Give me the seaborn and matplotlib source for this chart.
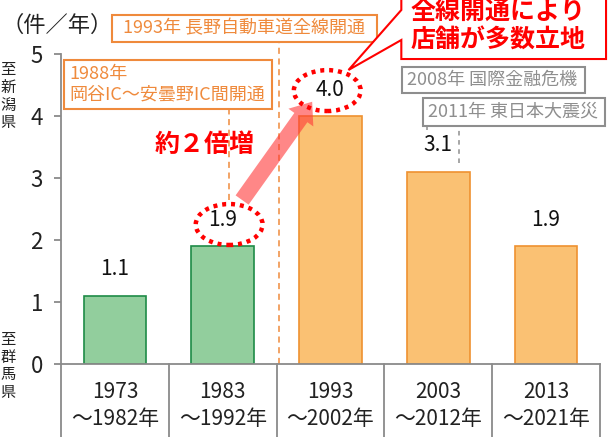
import numpy as np
import pandas as pd
import matplotlib
matplotlib.use('Agg')
import matplotlib.pyplot as plt
import seaborn as sns
from matplotlib.patches import Ellipse, Rectangle, Polygon, FancyArrowPatch

sns.set_theme(style='white')
plt.rcParams['font.family'] = ['Noto Sans CJK JP', 'DejaVu Sans']

# ============================================================
# data
# ============================================================
period_start = ['1973', '1983', '1993', '2003', '2013']
period_end = ['～1982年', '～1992年', '～2002年', '～2012年', '～2021年']
stores_per_year = [1.1, 1.9, 4.0, 3.1, 1.9]
phase = ['before', 'before', 'after', 'after', 'after']
y_ticks = [0, 1, 2, 3, 4, 5]

fill_colors = {'before': '#92CE9D', 'after': '#FAC173'}
edge_colors = {'before': '#1E8B47', 'after': '#EF9130'}

df = pd.DataFrame({
    'period': [f'{a}\n{b}' for a, b in zip(period_start, period_end)],
    'value': stores_per_year,
    'phase': phase,
})

ORANGE = '#EF8A3C'
GRAY = '#8E8E8E'
RED = '#FF0000'
AXIS_GRAY = '#8A8A8A'

# ============================================================
# figure
# ============================================================
fig = plt.figure(figsize=(6.13, 4.37), dpi=100)
ax = fig.add_axes([61 / 613, 73 / 437, 539 / 613, 310 / 437])

sns.barplot(data=df, x='period', y='value', hue='phase', palette=fill_colors,
            width=0.58, dodge=False, legend=False, ax=ax, saturation=1)

for p in ax.patches:
    idx = int(round(p.get_x() + p.get_width() / 2))
    p.set_edgecolor(edge_colors[phase[idx]])
    p.set_linewidth(1.2)

ax.set_xlim(-0.5, 4.5)
ax.set_ylim(0, 5)
ax.set_yticks(y_ticks)
ax.set_xlabel('')
ax.set_ylabel('')

for side in ['top', 'right']:
    ax.spines[side].set_visible(False)
for side in ['left', 'bottom']:
    ax.spines[side].set_color(AXIS_GRAY)
    ax.spines[side].set_linewidth(1.3)

ax.tick_params(axis='y', length=5, width=1.3, color=AXIS_GRAY, pad=8,
               labelsize=16, labelcolor='#222222', left=True)
ax.tick_params(axis='x', length=0, pad=12, labelsize=15, labelcolor='#222222')
for lab in ax.get_xticklabels():
    lab.set_linespacing(1.3)

# table lines below the axis
for xb in np.arange(-0.5, 5, 1):
    ax.plot([xb, xb], [0, -1.25], color=AXIS_GRAY, lw=1.3, clip_on=False)

# value labels
for i, v in enumerate(stores_per_year):
    ax.annotate(f'{v:.1f}', (i, v), xytext=(0, 19), textcoords='offset points',
                ha='center', va='center', fontsize=15, color='#111111')

# dotted red ellipses around 1.9 and 4.0
for i, dx, dy in [(1, 0.06, -0.04), (2, -0.03, 0.02)]:
    ax.add_patch(Ellipse((i + dx, stores_per_year[i] + 0.39 + dy), 0.62, 0.66,
                         fill=False, edgecolor=RED, lw=3.2,
                         linestyle=(0, (0.9, 1.1)), clip_on=False, zorder=5))

# arrow
ax.add_patch(FancyArrowPatch((1.18, 2.645), (1.83, 4.23),
                             arrowstyle='simple,tail_width=1.15,head_width=2.2,head_length=1.4',
                             mutation_scale=10, color='#FF3838', alpha=0.6,
                             lw=0, shrinkA=0, shrinkB=0, zorder=4, clip_on=False))
ax.text(0.83, 3.53, '約２倍増', ha='center', va='center', fontsize=18,
        fontweight='bold', color=RED)

# 1993 box
ax.plot([1.52, 1.52], [0, 5.19], color=ORANGE, lw=1.1, ls=(0, (4, 3)), clip_on=False)
ax.add_patch(Rectangle((-0.028, 5.19), 2.463, 0.44, fill=True, facecolor='white',
                       edgecolor=ORANGE, lw=1.5, clip_on=False, zorder=3))
ax.text(1.20, 5.41, '1993年 長野自動車道全線開通', ha='center', va='center',
        fontsize=13, color=ORANGE, zorder=4, clip_on=False)

# 1988 box
ax.plot([1.056, 1.056], [2.64, 4.113], color=ORANGE, lw=1.1, ls=(0, (4, 3)), clip_on=False)
ax.add_patch(Rectangle((-0.472, 4.113), 1.926, 0.79, facecolor='white',
                       edgecolor=ORANGE, lw=1.5, clip_on=False, zorder=3))
ax.text(-0.42, 4.51, '1988年\n岡谷IC～安曇野IC間開通', ha='left', va='center',
        fontsize=13, color=ORANGE, linespacing=1.2, zorder=4)

# callout
callout = [(2.657, 5.96), (2.657, 5.71), (2.167, 4.742), (2.657, 5.226),
           (2.657, 4.919), (4.556, 4.919), (4.556, 5.96)]
ax.add_patch(Polygon(callout, closed=True, facecolor='white', edgecolor=RED,
                     lw=1.5, clip_on=False, zorder=6))
ax.text(3.55, 5.45, '全線開通により\n店舗が多数立地', ha='center', va='center',
        fontsize=18, fontweight='bold', color=RED, linespacing=1.25,
        zorder=7, clip_on=False)

# gray event boxes
ax.plot([2.898, 2.898], [3.78, 4.371], color=GRAY, lw=1.1, ls=(0, (3, 3)), clip_on=False)
ax.plot([3.194, 3.194], [3.24, 3.839], color=GRAY, lw=1.1, ls=(0, (3, 3)), clip_on=False)
ax.add_patch(Rectangle((2.667, 4.371), 1.694, 0.42, facecolor='white',
                       edgecolor=GRAY, lw=1.5, clip_on=False, zorder=3))
ax.text(2.713, 4.58, '2008年 国際金融危機', ha='left', va='center',
        fontsize=13, color=GRAY, zorder=4)
ax.add_patch(Rectangle((2.861, 3.839), 1.685, 0.45, facecolor='white',
                       edgecolor=GRAY, lw=1.5, clip_on=False, zorder=3))
ax.text(2.907, 4.065, '2011年 東日本大震災', ha='left', va='center',
        fontsize=13, color=GRAY, zorder=4)

# units and direction labels
ax.text(-0.537, 5.47, '（件／年）', ha='center', va='center', fontsize=16,
        color='#222222', clip_on=False)
ax.text(-0.99, 4.32, '\n'.join('至新潟県'), ha='center', va='center',
        fontsize=11, linespacing=1.05, color='#222222', clip_on=False)
ax.text(-0.99, -0.03, '\n'.join('至群馬県'), ha='center', va='center',
        fontsize=11, linespacing=1.05, color='#222222', clip_on=False)

fig.savefig('out.png', dpi=100)
